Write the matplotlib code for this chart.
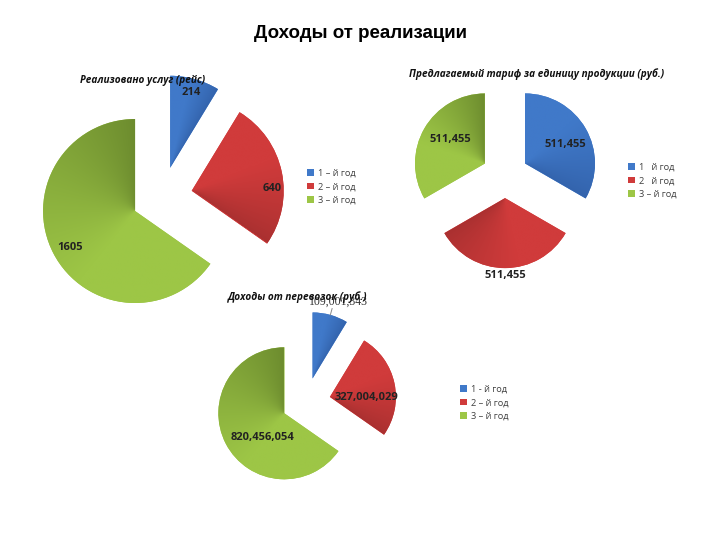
import numpy as np
import matplotlib
matplotlib.use('Agg')
import matplotlib.pyplot as plt
from matplotlib.colors import to_rgb

W, H = 720, 540

# data
flights = [214, 640, 1605]
tariff = [511455, 511455, 511455]
revenue = [109001343, 327004029, 820456054]

legend_1 = ['1 – й год', '2 – й год', '3 – й год']
legend_2 = ['1   й год', '2   й год', '3 – й год']
legend_3 = ['1 - й год', '2 – й год', '3 – й год']

main_title = 'Доходы от реализации'
title_1 = 'Реализовано услуг (рейс)'
title_2 = 'Предлагаемый тариф за единицу продукции (руб.)'
title_3 = 'Доходы от перевозок (руб.)'

# light / dark ends of the excel-like gradient
light = ['#4079c9', '#d03b3b', '#9dc646']
dark = ['#3363ac', '#a93030', '#6c8b2e']
LBL = ['Open Sans', 'DejaVu Sans']


def shade(ax, w, c_light, c_dark):
    """angular gradient clipped to a wedge, dark at the clockwise end"""
    n = 300
    xs = np.linspace(-1.6, 1.6, n)
    X, Y = np.meshgrid(xs, xs)
    cx, cy = w.center
    ang = np.degrees(np.arctan2(Y - cy, X - cx))
    t = ((ang - w.theta1) % 360) / (w.theta2 - w.theta1)
    t = np.clip(t / 0.6, 0, 1)[..., None] ** 0.8
    lo, hi = np.array(to_rgb(c_dark)), np.array(to_rgb(c_light))
    img = lo + (hi - lo) * t
    im = ax.imshow(img, extent=(-1.6, 1.6, -1.6, 1.6), origin='lower',
                   zorder=2, interpolation='bilinear')
    im.set_clip_path(w)


def pie_panel(fig, cx, cy, r, values, explode, label_pos, title, title_xy,
              legend_labels, legend_xy, label_font=None):
    ax = fig.add_axes([(cx - 1.6 * r) / W, 1 - (cy + 1.6 * r) / H,
                       3.2 * r / W, 3.2 * r / H])
    wedges, _ = ax.pie(values, explode=[explode] * len(values), startangle=90,
                       counterclock=False, colors=light,
                       wedgeprops=dict(linewidth=0))
    for i, w in enumerate(wedges):
        shade(ax, w, light[i], dark[i])
        dist, shift = label_pos[i]
        a = np.radians((w.theta1 + w.theta2) / 2 + shift)
        x = w.center[0] + dist * np.cos(a)
        y = w.center[1] + dist * np.sin(a)
        txt = f'{values[i]:,}' if values[i] >= 10000 else str(values[i])
        if label_font is not None and i == 0:
            ax.text(x, y, txt, ha='center', va='center', fontsize=8.5,
                    family=label_font, color='#333333', zorder=5)
            am = np.radians((w.theta1 + w.theta2) / 2)
            ax.plot([w.center[0] + np.cos(am), w.center[0] + 1.1 * np.cos(am)],
                    [w.center[1] + np.sin(am), w.center[1] + 1.1 * np.sin(am)],
                    color='#888888', lw=0.7, zorder=4)
        else:
            ax.text(x, y, txt, ha='center', va='center', fontsize=8,
                    fontweight='bold', family=LBL, color='#222222', zorder=5)
    ax.set_xlim(-1.6, 1.6)
    ax.set_ylim(-1.6, 1.6)
    ax.axis('off')

    fig.text(title_xy[0] / W, 1 - title_xy[1] / H, title, ha='center',
             va='center', fontsize=7.2, fontweight='bold', style='italic',
             family=LBL, color='#111111')
    fig.legend(wedges, legend_labels, loc='upper left',
               bbox_to_anchor=(legend_xy[0] / W, 1 - legend_xy[1] / H),
               frameon=False, handlelength=0.75,
               handleheight=0.75, handletextpad=0.4, labelspacing=0.45,
               borderpad=0, borderaxespad=0, labelcolor='#404040',
               prop=dict(family=LBL, size=6.7))


fig = plt.figure(figsize=(W / 100, H / 100), dpi=100)
fig.patch.set_facecolor('white')

fig.text(360 / W, 1 - 33 / H, main_title, ha='center', va='center',
         fontsize=13.5, fontweight='bold', family='Liberation Sans')

pie_panel(fig, 162, 197, 92, flights, 0.33,
          [(0.85, 0), (0.88, -10), (0.81, 2)],
          title_1, (143, 80), legend_1, (307, 169))

pie_panel(fig, 505, 175, 70, tariff, 0.33,
          [(0.63, -5), (1.1, 0), (0.6, -4)],
          title_2, (537, 74), legend_2, (628, 163))

pie_panel(fig, 306, 402, 66, revenue, 0.37,
          [(1.22, -3), (0.55, -12), (0.5, 20)],
          title_3, (298, 297), legend_3, (460, 385),
          label_font=['Liberation Serif', 'DejaVu Serif'])

fig.savefig('out.png', dpi=100)
